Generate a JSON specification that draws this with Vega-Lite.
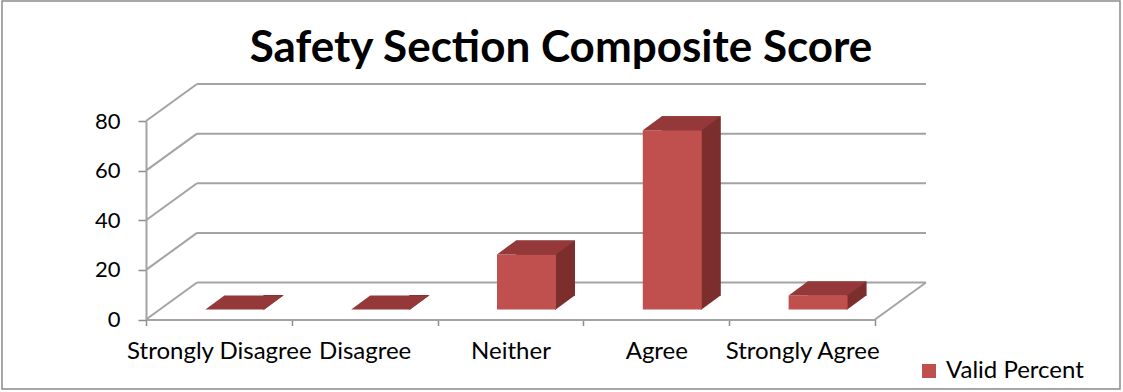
{
  "$schema": "https://vega.github.io/schema/vega-lite/v6.json",
  "width": 1118,
  "height": 388,
  "autosize": {"type": "none"},
  "padding": {"left": 2, "top": 1, "right": 3, "bottom": 3},
  "background": "white",
  "config": {
    "font": "Lato",
    "view": {"stroke": "#8a8a8a", "strokeWidth": 1.5},
    "axis": {"grid": false},
    "axisX": {
      "offset": -69.5,
      "tickBand": "extent",
      "tickSize": 6,
      "tickWidth": 1.5,
      "tickColor": "#8c8c8c",
      "domainColor": "#a3a3a3",
      "domainWidth": 2,
      "labelAngle": 0,
      "labelFontSize": 24,
      "labelColor": "#000000",
      "labelPadding": 14,
      "labelLimit": 0,
      "labelOverlap": false
    },
    "axisY": {
      "offset": -144,
      "tickCount": 4,
      "tickSize": 8,
      "tickWidth": 1.5,
      "tickColor": "#8c8c8c",
      "domainColor": "#a3a3a3",
      "domainWidth": 2,
      "labelFontSize": 22,
      "labelColor": "#000000",
      "labelPadding": 18
    }
  },
  "title": {
    "text": "Safety Section Composite Score",
    "font": "Lato",
    "fontSize": 44,
    "fontWeight": "bold",
    "color": "#000000",
    "anchor": "middle",
    "frame": "group",
    "baseline": "alphabetic",
    "offset": -105
  },
  "datasets": {
    "responses": [
      {"Response": "Strongly Disagree", "Percent": 0},
      {"Response": "Disagree", "Percent": 0},
      {"Response": "Neither", "Percent": 22.2},
      {"Response": "Agree", "Percent": 72.2},
      {"Response": "Strongly Agree", "Percent": 5.6}
    ],
    "levels": [
      {"Level": 0}, {"Level": 20}, {"Level": 40}, {"Level": 60}, {"Level": 80}
    ]
  },
  "layer": [
    {
      "data": {"name": "levels"},
      "layer": [
        {
          "mark": {"type": "rule", "color": "#a3a3a3", "strokeWidth": 2, "xOffset": 51, "x2Offset": 51, "yOffset": -37, "y2Offset": -37},
          "encoding": {
            "x": {"datum": 0, "type": "quantitative", "scale": {"domain": [0, 5], "range": [144, 873], "nice": false, "zero": false}, "axis": null},
            "x2": {"datum": 5},
            "y": {"field": "Level", "type": "quantitative", "scale": {"domain": [0, 80], "range": [318.5, 120], "nice": false}, "title": null},
            "y2": {"field": "Level"}
          }
        },
        {
          "mark": {"type": "rule", "color": "#a3a3a3", "strokeWidth": 2, "x2Offset": 51, "y2Offset": -37},
          "encoding": {
            "x": {"datum": 0, "type": "quantitative", "axis": null},
            "x2": {"datum": 0},
            "y": {"field": "Level", "type": "quantitative", "title": null},
            "y2": {"field": "Level"}
          }
        },
        {
          "transform": [{"filter": "datum.Level == 0"}],
          "mark": {"type": "rule", "color": "#a3a3a3", "strokeWidth": 2, "x2Offset": 51, "y2Offset": -37},
          "encoding": {
            "x": {"datum": 5, "type": "quantitative", "axis": null},
            "x2": {"datum": 5},
            "y": {"field": "Level", "type": "quantitative", "title": null},
            "y2": {"field": "Level"}
          }
        }
      ]
    },
    {
      "data": {"name": "responses"},
      "encoding": {
        "x": {
          "field": "Response",
          "type": "nominal",
          "title": null,
          "scale": {
            "domain": ["Strongly Disagree", "Disagree", "Neither", "Agree", "Strongly Agree"],
            "range": [144, 873],
            "paddingInner": 0,
            "paddingOuter": 0
          }
        }
      },
      "layer": [
        {
          "mark": {"type": "bar", "color": "#7b2e2c", "size": 59, "xOffset": 35, "x2Offset": 35, "yOffset": -24, "y2Offset": -24},
          "encoding": {
            "y": {"field": "Percent", "type": "quantitative", "title": null}
          }
        },
        {
          "mark": {"type": "point", "shape": "M-0.05,0.03L0.97,-0.72L-0.05,-0.72Z", "size": 1600, "filled": true, "opacity": 1, "strokeWidth": 0, "color": "#7b2e2c", "xOffset": 45.5, "yOffset": -10},
          "encoding": {
            "y": {"datum": 0, "type": "quantitative", "title": null}
          }
        },
        {
          "mark": {"type": "bar", "size": 59, "xOffset": 16, "x2Offset": 16, "yOffset": -10, "y2Offset": -10},
          "encoding": {
            "y": {"field": "Percent", "type": "quantitative", "title": null},
            "color": {
              "datum": "Valid Percent",
              "type": "nominal",
              "scale": {"range": ["#c0504d"]},
              "legend": {
                "orient": "none",
                "legendX": 915,
                "legendY": 358,
                "title": null,
                "symbolType": "square",
                "symbolSize": 196,
                "symbolStrokeWidth": 0,
                "labelFontSize": 24,
                "labelColor": "#000000",
                "labelOffset": 5
              }
            }
          }
        },
        {
          "mark": {"type": "point", "shape": "M0,0L1.475,0L1.95,-0.35L0.475,-0.35Z", "size": 6400, "filled": true, "opacity": 1, "strokeWidth": 0, "color": "#94383a", "xOffset": -13.5, "yOffset": -10},
          "encoding": {
            "y": {"field": "Percent", "type": "quantitative", "title": null}
          }
        }
      ]
    }
  ],
  "resolve": {"scale": {"x": "independent"}}
}
